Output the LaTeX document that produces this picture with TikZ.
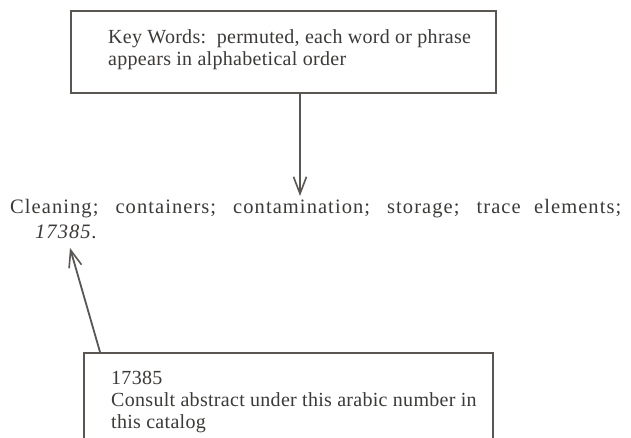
\documentclass[tikz,border=0pt]{standalone}
\usepackage{fontspec}
\setmainfont{Liberation Serif}
\newfontfamily\spaced[LetterSpace=5.2]{Liberation Serif}
\newfontfamily\slightly[LetterSpace=1.5]{Liberation Serif}
\usetikzlibrary{arrows.meta}
\definecolor{ink}{HTML}{3C3A38}
\definecolor{rule}{HTML}{595654}
\begin{document}
\begin{tikzpicture}[x=1pt,y=-1pt,
    frame/.style={draw=rule,line width=1.8pt,inner sep=0pt,anchor=north west},
    label/.style={text=ink,inner sep=0pt,anchor=base west,align=left,
      font=\slightly\fontsize{20}{22}\selectfont},
    pointer/.style={draw=rule,line width=1.8pt,
      -{Straight Barb[length=17pt,width=13pt,line width=1.6pt]}}]
  \clip (0,0) rectangle (631,438);
  \fill[white] (0,0) rectangle (631,438);

  % upper box (text anchored on its last baseline)
  \node[frame,minimum width=425pt,minimum height=82pt] (topbox) at (70,10) {};
  \node[label] (toptext) at (108,66)
    {Key Words:\ \ permuted, each word or phrase\\appears in alphabetical order};

  % index entry
  \node[label,font=\spaced\fontsize{20.5}{24}\selectfont] (entry) at (10,214)
    {\makebox[611pt][s]{Cleaning; containers; contamination; storage; trace elements;}};
  \node[label,font=\spaced\fontsize{20.5}{24}\selectfont\itshape] (entrynum) at (35,238) {17385.};

  % lower box, running past the bottom edge
  \node[frame,minimum width=409pt,minimum height=110pt] (botbox) at (83,352) {};
  \node[label] (bottext) at (111,428)
    {17385\\Consult abstract under this arabic number in\\this catalog};

  % connectors
  \coordinate (downstart) at (300,92);
  \coordinate (downend) at (300,196);
  \coordinate (upstart) at (100,352);
  \coordinate (upend) at (70,248);
  \draw[pointer] (downstart) -- (downend);
  \draw[pointer] (upstart) -- (upend);
\end{tikzpicture}
\end{document}
